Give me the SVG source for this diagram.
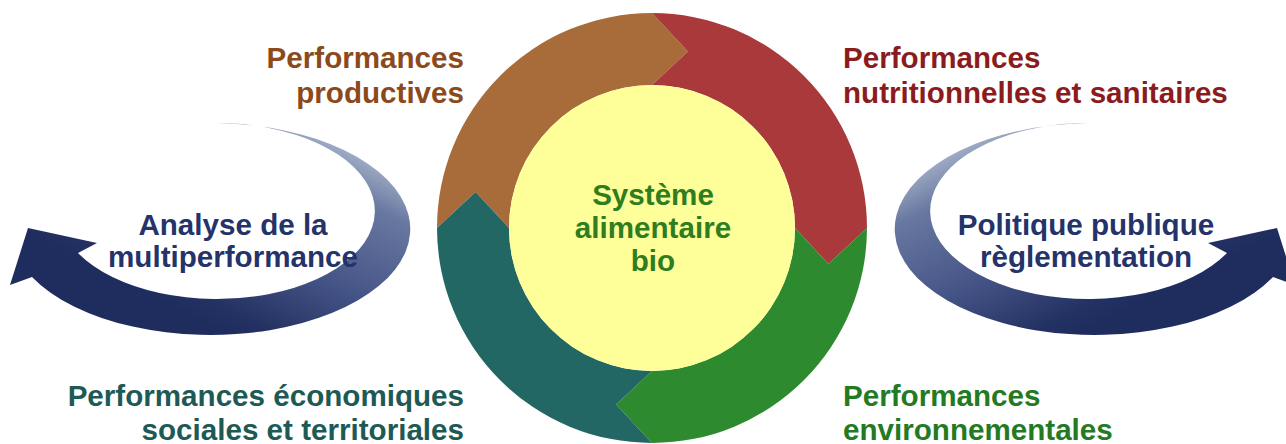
<svg xmlns="http://www.w3.org/2000/svg" width="1286" height="444" viewBox="0 0 1286 444">
<style>
text{font-family:"Liberation Sans",Arial,sans-serif;font-weight:bold;font-size:29.6px}
.brown{fill:#8C4A1C}.red{fill:#8B1C1E}.teal{fill:#1E5A55}.green{fill:#237A22}.center{fill:#2E7D1F}.navy{fill:#24336A}
</style>
<defs>
<linearGradient id="swoosh" gradientUnits="userSpaceOnUse" x1="300" y1="120" x2="200" y2="320">
<stop offset="0" stop-color="#A8B4CB"/>
<stop offset="0.2" stop-color="#6878A0"/>
<stop offset="0.58" stop-color="#465587"/>
<stop offset="0.9" stop-color="#243263"/>
<stop offset="1" stop-color="#1F2C5E"/>
</linearGradient>
</defs>
<g id="connectors">
<path id="arrow-left" fill="url(#swoosh)" d="M217,123 A200,106 0 1 1 32,277 L10,285 L28,228 L97,243 L78,253 A158,88 0 1 0 217,123 Z"/>
<path id="arrow-right" fill="url(#swoosh)" transform="translate(1305,0) scale(-1,1)" d="M217,123 A200,106 0 1 1 32,277 L10,285 L28,228 L97,243 L78,253 A158,88 0 1 0 217,123 Z"/>
</g>
<g id="ring">
<path id="seg-productives" fill="#A86C3A" d="M437,228 A215,215 0 0 1 652,13 L687.9,51.6 L652,85 A143,143 0 0 0 509,228 L475.6,192.1 Z"/>
<path id="seg-nutrition" fill="#A9393B" d="M652,13 A215,215 0 0 1 867,228 L828.4,263.9 L795,228 A143,143 0 0 0 652,85 L687.9,51.6 Z"/>
<path id="seg-environnement" fill="#2E8A2F" d="M867,228 A215,215 0 0 1 652,443 L616.1,404.4 L652,371 A143,143 0 0 0 795,228 L828.4,263.9 Z"/>
<path id="seg-economie" fill="#236765" d="M652,443 A215,215 0 0 1 437,228 L475.6,192.1 L509,228 A143,143 0 0 0 652,371 L616.1,404.4 Z"/>
</g>
<g id="node-center">
<circle cx="652" cy="228" r="143" fill="#FFFF99"/>
<text class="center" text-anchor="middle" x="653" y="205">Système</text>
<text class="center" text-anchor="middle" x="653" y="238">alimentaire</text>
<text class="center" text-anchor="middle" x="653" y="271">bio</text>
</g>
<g id="node-productives">
<text class="brown" text-anchor="end" x="464" y="68">Performances</text>
<text class="brown" text-anchor="end" x="464" y="103">productives</text>
</g>
<g id="node-nutrition">
<text class="red" x="843" y="68">Performances</text>
<text class="red" x="843" y="103">nutritionnelles et sanitaires</text>
</g>
<g id="node-economie">
<text class="teal" text-anchor="end" x="464" y="406">Performances économiques</text>
<text class="teal" text-anchor="end" x="464" y="440">sociales et territoriales</text>
</g>
<g id="node-environnement">
<text class="green" x="843" y="406">Performances</text>
<text class="green" x="843" y="440">environnementales</text>
</g>
<g id="node-analyse">
<text class="navy" text-anchor="middle" x="233" y="235">Analyse de la</text>
<text class="navy" text-anchor="middle" x="233" y="267">multiperformance</text>
</g>
<g id="node-politique">
<text class="navy" text-anchor="middle" x="1086" y="235">Politique publique</text>
<text class="navy" text-anchor="middle" x="1086" y="267">règlementation</text>
</g>
</svg>
